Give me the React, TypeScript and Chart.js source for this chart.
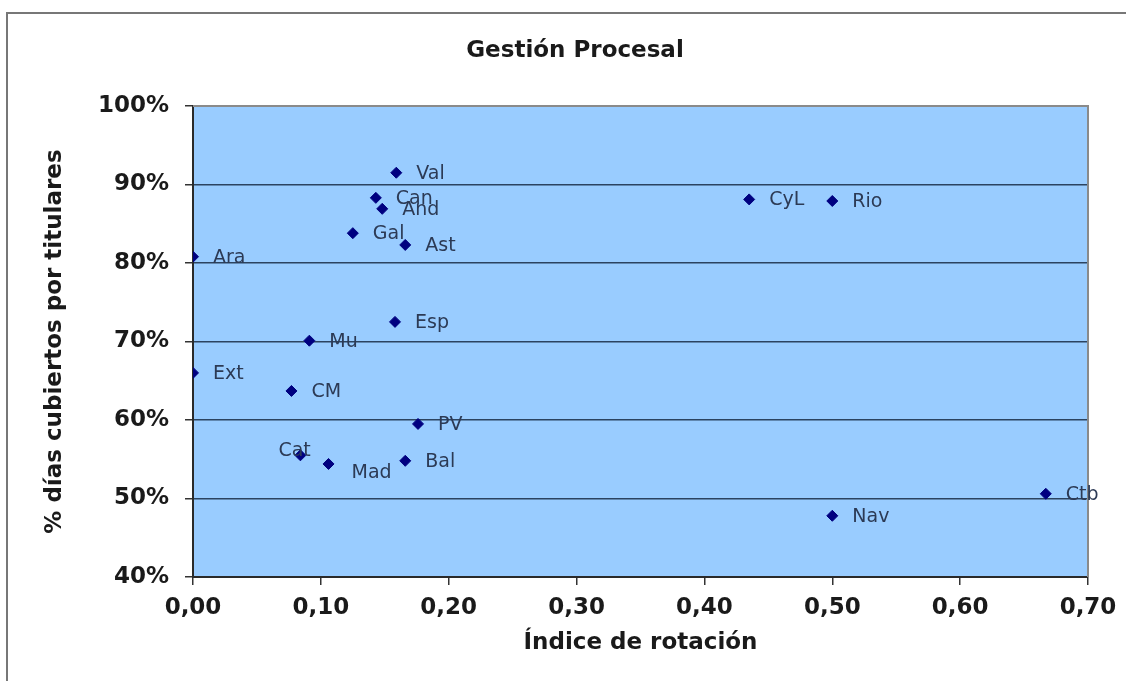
import React, { useEffect, useRef } from "react";
import { Chart, registerables } from "chart.js";

Chart.register(...registerables);

const regions = ["Val", "Can", "And", "Gal", "Ast", "Ara", "Esp", "Mu", "Ext", "CM", "PV", "Cat", "Mad", "Bal", "CyL", "Rio", "Ctb", "Nav"];
const rotationIndex = [0.159, 0.143, 0.148, 0.125, 0.166, 0.0, 0.158, 0.091, 0.0, 0.077, 0.176, 0.084, 0.106, 0.166, 0.435, 0.5, 0.667, 0.5];
const coveredDays = [0.915, 0.883, 0.869, 0.838, 0.823, 0.808, 0.725, 0.701, 0.66, 0.637, 0.595, 0.555, 0.544, 0.548, 0.881, 0.879, 0.506, 0.478];
const xTicks = [0, 0.1, 0.2, 0.3, 0.4, 0.5, 0.6, 0.7];
const yTicks = [0.4, 0.5, 0.6, 0.7, 0.8, 0.9, 1.0];

// label placement relative to the marker (style only)
const defaultLabelOffset = { dx: 20, dy: 1 };
const labelOffsets: Record<string, { dx: number; dy: number }> = {
  Cat: { dx: -22, dy: -4 },
  Mad: { dx: 23, dy: 9 },
};

const FONT = "'DejaVu Sans', Verdana, sans-serif";

const plotStylePlugin = {
  id: "plotStyle",
  beforeDraw(chart: any) {
    const { ctx, chartArea: a } = chart;
    ctx.save();
    ctx.fillStyle = "#ffffff";
    ctx.fillRect(0, 0, chart.width, chart.height);
    ctx.fillStyle = "#99ccff";
    ctx.fillRect(a.left, a.top, a.right - a.left, a.bottom - a.top);
    ctx.restore();
  },
  beforeDatasetsDraw(chart: any) {
    const { ctx, chartArea: a } = chart;
    ctx.save();
    ctx.strokeStyle = "#8a8a8a";
    ctx.lineWidth = 2;
    ctx.beginPath();
    ctx.moveTo(a.left, a.top);
    ctx.lineTo(a.right, a.top);
    ctx.lineTo(a.right, a.bottom);
    ctx.stroke();
    ctx.restore();
  },
};

const pointLabelPlugin = {
  id: "pointLabels",
  afterDatasetsDraw(chart: any) {
    const { ctx } = chart;
    const meta = chart.getDatasetMeta(0);
    ctx.save();
    ctx.font = `19px ${FONT}`;
    ctx.fillStyle = "#2c3a55";
    ctx.textAlign = "left";
    ctx.textBaseline = "middle";
    meta.data.forEach((el: any, i: number) => {
      const name = regions[i];
      const off = labelOffsets[name] || defaultLabelOffset;
      ctx.fillText(name, el.x + off.dx, el.y + off.dy);
    });
    ctx.restore();
  },
};

export default function App() {
  const canvasRef = useRef<HTMLCanvasElement | null>(null);

  useEffect(() => {
    if (!canvasRef.current) return;
    const chart = new Chart(canvasRef.current, {
      type: "scatter",
      data: {
        datasets: [
          {
            label: "Gestión Procesal",
            data: regions.map((_, i) => ({ x: rotationIndex[i], y: coveredDays[i] })),
            pointStyle: "rectRot",
            pointRadius: 5.5,
            pointHoverRadius: 5.5,
            backgroundColor: "#000080",
            borderColor: "#000080",
            borderWidth: 1,
          },
        ],
      },
      options: {
        animation: false,
        responsive: false,
        maintainAspectRatio: false,
        layout: { padding: { left: 24, right: 0, top: 0, bottom: 0 } },
        plugins: {
          legend: { display: false },
          tooltip: { enabled: false },
          title: {
            display: true,
            text: "Gestión Procesal",
            color: "#1a1a1a",
            font: { family: FONT, size: 23, weight: "bold" },
            padding: { top: 37, bottom: 41.4 },
          },
        },
        scales: {
          x: {
            type: "linear",
            position: "bottom",
            min: xTicks[0],
            max: xTicks[xTicks.length - 1],
            afterBuildTicks: (s: any) => {
              s.ticks = xTicks.map((v) => ({ value: v }));
            },
            afterFit: (s: any) => {
              s.height = 104;
            },
            ticks: {
              color: "#1a1a1a",
              font: { family: FONT, size: 23, weight: "bold" },
              padding: 9,
              maxRotation: 0,
              autoSkip: false,
              callback: (v: any) => Number(v).toFixed(2).replace(".", ","),
            },
            grid: { drawOnChartArea: false, drawTicks: true, tickLength: 8, color: "#333333", tickColor: "#333333", lineWidth: 1.5 },
            border: { display: true, color: "#2a2a2a", width: 2 },
            title: {
              display: true,
              text: "Índice de rotación",
              color: "#1a1a1a",
              font: { family: FONT, size: 23, weight: "bold" },
              padding: { top: 0, bottom: 24 },
            },
          },
          y: {
            type: "linear",
            position: "left",
            min: yTicks[0],
            max: yTicks[yTicks.length - 1],
            afterBuildTicks: (s: any) => {
              s.ticks = yTicks.map((v) => ({ value: v }));
            },
            afterFit: (s: any) => {
              s.width = 169;
            },
            ticks: {
              color: "#1a1a1a",
              font: { family: FONT, size: 23, weight: "bold" },
              padding: 16,
              autoSkip: false,
              callback: (v: any) => Math.round(Number(v) * 100) + "%",
            },
            grid: { drawOnChartArea: true, drawTicks: true, tickLength: 8, color: "#2b4360", tickColor: "#333333", lineWidth: 1.5 },
            border: { display: true, color: "#2a2a2a", width: 2 },
            title: {
              display: true,
              text: "% días cubiertos por titulares",
              color: "#1a1a1a",
              font: { family: FONT, size: 23, weight: "bold" },
              padding: { top: 17, bottom: 0 },
            },
          },
          yRight: {
            type: "linear",
            position: "right",
            display: true,
            afterFit: (s: any) => {
              s.width = 38;
            },
            ticks: { display: false },
            grid: { display: false, drawTicks: false },
            border: { display: false },
          },
        },
      },
      plugins: [plotStylePlugin, pointLabelPlugin],
    } as any);
    return () => chart.destroy();
  }, []);

  return (
    <div style={{ position: "fixed", left: 0, top: 0, width: 1126, height: 681, background: "#fff", overflow: "hidden" }}>
      <canvas ref={canvasRef} width={1126} height={681} style={{ position: "absolute", left: 0, top: 0, width: 1126, height: 681 }} />
      <div
        style={{
          position: "absolute",
          left: 6,
          top: 12,
          width: 1200,
          height: 800,
          borderTop: "2px solid #777",
          borderLeft: "2px solid #777",
          pointerEvents: "none",
        }}
      />
    </div>
  );
}
